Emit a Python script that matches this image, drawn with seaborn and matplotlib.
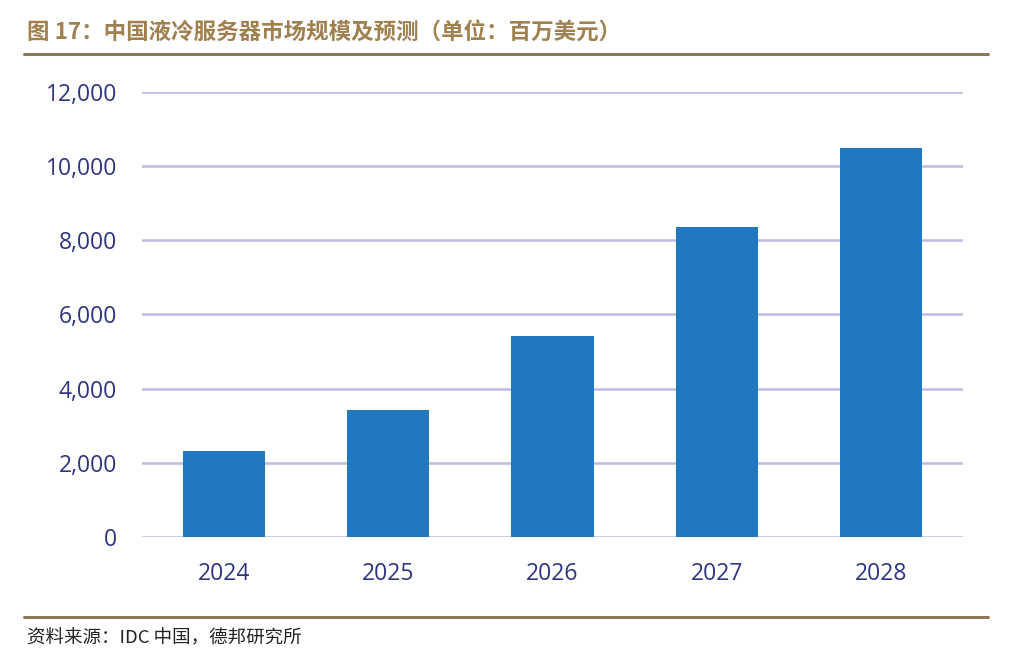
import numpy as np
import pandas as pd
import seaborn as sns
import matplotlib.pyplot as plt
from matplotlib.ticker import FuncFormatter

years = ['2024', '2025', '2026', '2027', '2028']
market_size = [2330, 3430, 5430, 8350, 10500]

title_text = '图 17：中国液冷服务器市场规模及预测（单位：百万美元）'
source_text = '资料来源：IDC 中国，德邦研究所'

sns.set_style('white')
plt.rcParams['font.family'] = ['Open Sans', 'Noto Sans CJK SC', 'DejaVu Sans']

data = pd.DataFrame({'year': years, 'value': market_size})

fig = plt.figure(figsize=(10.09, 6.58), dpi=100)
ax = fig.add_axes([0.1407, 0.1839, 0.8137, 0.6763])

sns.barplot(x='year', y='value', data=data, color='#2278be', width=0.5,
            saturation=1, linewidth=0, ax=ax, zorder=3)

ax.set_ylim(0, 12000)
ax.set_xlim(-0.5, 4.5)
ax.set_yticks(np.arange(0, 12001, 2000))
ax.yaxis.set_major_formatter(FuncFormatter(lambda v, p: f'{int(v):,}'))
ax.grid(axis='y', color='#bcbce4', linewidth=1.8, zorder=0)
ax.grid(axis='x', visible=False)
for s in ax.spines.values():
    s.set_visible(False)
ax.set_xlabel('')
ax.set_ylabel('')
ax.tick_params(axis='both', length=0, labelsize=16.5, labelcolor='#2d3580')
ax.tick_params(axis='y', pad=18)
ax.tick_params(axis='x', pad=18)

# header / footer
fig.text(0.027, 0.949, title_text, color='#a0804f', fontsize=16.2,
         fontweight='bold', family=['Noto Sans CJK SC', 'DejaVu Sans'],
         va='center', ha='left')
fig.add_artist(plt.Line2D([0.024, 0.979], [0.918, 0.918], color='#8b7658',
                          linewidth=2.2, transform=fig.transFigure))
fig.add_artist(plt.Line2D([0.024, 0.979], [0.062, 0.062], color='#8b7658',
                          linewidth=2.2, transform=fig.transFigure))
fig.text(0.027, 0.030, source_text, color='#222222', fontsize=13.3,
         family=['Noto Sans CJK SC', 'DejaVu Sans'], va='center', ha='left')

fig.savefig('out.png', dpi=100)
